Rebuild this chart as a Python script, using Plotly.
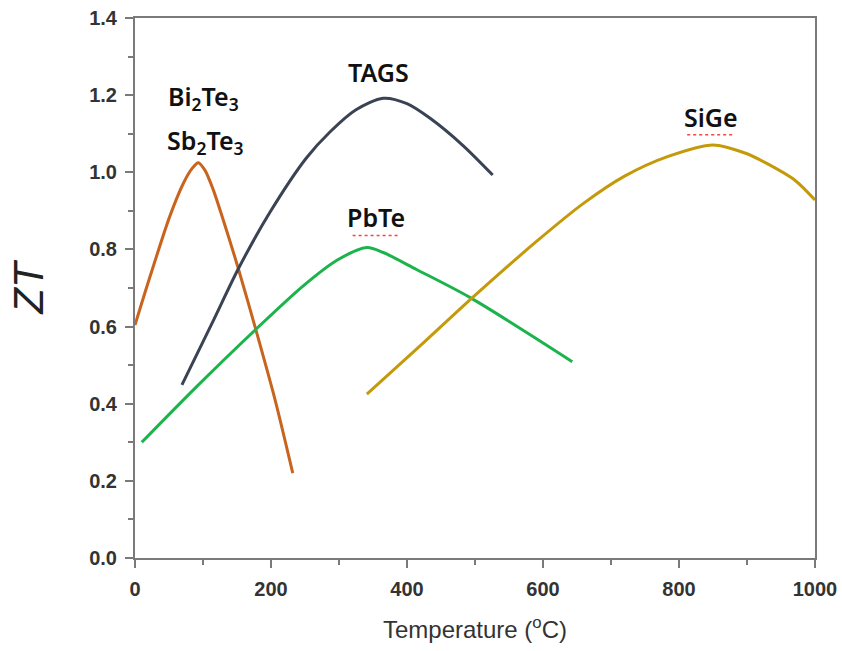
import plotly.graph_objects as go

# ---- data ----
bi_T = [0, 22, 51, 71, 84, 93, 103, 115, 130, 152, 178, 206, 232]
bi_ZT = [0.604, 0.729, 0.885, 0.971, 1.010, 1.025, 1.005, 0.955, 0.875, 0.750, 0.590, 0.410, 0.22]

tags_T = [69, 115, 152, 198, 252, 287, 325, 365, 400, 434, 482, 526]
tags_ZT = [0.449, 0.615, 0.750, 0.895, 1.037, 1.105, 1.162, 1.192, 1.178, 1.140, 1.070, 0.993]

pbte_T = [10, 91, 179, 247, 297, 341, 365, 414, 493, 643]
pbte_ZT = [0.300, 0.445, 0.595, 0.705, 0.772, 0.805, 0.792, 0.748, 0.675, 0.509]

sige_T = [341, 420, 495, 590, 660, 720, 782, 850, 900, 929, 970, 1000]
sige_ZT = [0.425, 0.551, 0.673, 0.820, 0.920, 0.990, 1.040, 1.071, 1.048, 1.023, 0.980, 0.928]

series_names = ["Bi2Te3/Sb2Te3", "TAGS", "PbTe", "SiGe"]
series_colors = ["#C8641E", "#3A4354", "#1CB34C", "#C49A0A"]

label_texts = ["Bi<sub>2</sub>Te<sub>3</sub>", "Sb<sub>2</sub>Te<sub>3</sub>", "TAGS", "PbTe", "SiGe"]
label_T = [100, 103, 358, 355, 847]
label_ZT = [1.193, 1.079, 1.26, 0.884, 1.143]

x_ticks = [0, 200, 400, 600, 800, 1000]
y_ticks = [0.0, 0.2, 0.4, 0.6, 0.8, 1.0, 1.2, 1.4]

fig = go.Figure()
for T, Z, name, col in zip([bi_T, tags_T, pbte_T, sige_T],
                           [bi_ZT, tags_ZT, pbte_ZT, sige_ZT],
                           series_names, series_colors):
    fig.add_trace(go.Scatter(x=T, y=Z, mode="lines", name=name,
                             line=dict(color=col, width=3, shape="spline", smoothing=0.8),
                             showlegend=False, hoverinfo="skip"))

for txt, tx, ty in zip(label_texts, label_T, label_ZT):
    fig.add_annotation(x=tx, y=ty, text=txt, showarrow=False,
                       font=dict(family="Noto Sans", size=25, color="#111111", weight=600))

# red spell-check squiggles under PbTe and SiGe
for tx, ty, w in [(355, 0.836, 70), (847, 1.097, 70)]:
    fig.add_shape(type="line", xref="x", yref="y",
                  x0=tx - w / 2, x1=tx + w / 2, y0=ty, y1=ty,
                  line=dict(color="#FF4040", width=1.5, dash="dot"))

axis_common = dict(showline=True, linecolor="#7a7a7a", linewidth=2, mirror=True,
                   showgrid=False, zeroline=False, ticks="outside", ticklen=8,
                   tickwidth=2, tickcolor="#7a7a7a", automargin=False,
                   tickfont=dict(family="Liberation Sans", size=20, color="#333333", weight="bold"),
                   minor=dict(ticks="outside", ticklen=5, tickwidth=2, tickcolor="#7a7a7a"))

fig.update_xaxes(range=[0, 1000], tickvals=x_ticks, ticktext=[str(v) for v in x_ticks],
                 minor_dtick=100, ticklabelstandoff=4,
                 title=dict(text="Temperature (<sup>o</sup>C)", standoff=22,
                            font=dict(family="Liberation Sans", size=24, color="#333333")),
                 **axis_common)
fig.update_yaxes(range=[0, 1.4], tickvals=y_ticks, ticktext=[f"{v:.1f}" for v in y_ticks],
                 minor_dtick=0.1, ticklabelstandoff=4,
                 title=dict(text="<i>ZT</i>", standoff=32,
                            font=dict(family="Liberation Sans", size=42, color="#222222")),
                 **axis_common)

fig.update_layout(width=842, height=651, plot_bgcolor="white", paper_bgcolor="white",
                  margin=dict(l=135, r=27, t=18, b=93))

fig.write_html("out.html")
